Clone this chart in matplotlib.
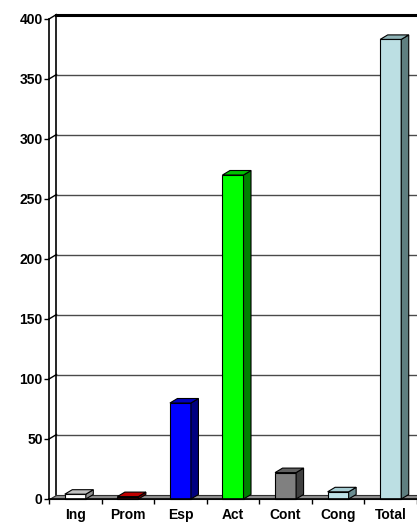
import matplotlib.pyplot as plt
from matplotlib.patches import Polygon

categories = ['Ing', 'Prom', 'Esp', 'Act', 'Cont', 'Cong', 'Total']
values = [4, 2, 80, 270, 22, 6, 383]
front_colors = ['#ffffff', '#dd0000', '#0000ff', '#00ff00', '#808080', '#bfe3e8', '#bcdfe3']
top_colors = ['#c0c0c0', '#c00000', '#0000c0', '#00c000', '#606060', '#a6cdd3', '#8fb3b6']
side_colors = ['#909090', '#800000', '#000080', '#008000', '#404040', '#6a8c90', '#5f7f80']
yticks = [0, 50, 100, 150, 200, 250, 300, 350, 400]

W, H = 417, 524
fig = plt.figure(figsize=(W / 100, H / 100), dpi=100)
ax = fig.add_axes([49 / W, 25 / H, 368 / W, 480 / H])
n = len(categories)
ax.set_xlim(-0.5, n - 0.5)
ax.set_ylim(0, 400)
for s in ax.spines.values():
    s.set_visible(False)

dx = 7.5 / 52.6   # depth in category units
dy = 4.5 / 1.2    # depth in value units
x0, x1 = -0.5, n - 0.5

# left wall lines
ax.plot([x0, x0], [0, 400], color='black', lw=1.2, clip_on=False)
ax.plot([x0 + dx, x0 + dx], [dy, 400 + dy], color='black', lw=1.2, clip_on=False)

# gridlines on back wall + diagonals on side wall
for v in yticks[1:]:
    lw = 2.2 if v == 400 else 1.0
    c = 'black' if v == 400 else '#4a4a4a'
    ax.plot([x0 + dx, x1 + 0.2], [v + dy, v + dy], color=c, lw=lw, clip_on=False, zorder=1)
    ax.plot([x0, x0 + dx], [v, v + dy], color='black', lw=1.0, clip_on=False, zorder=1)

# floor
floor = Polygon([(x0, 0), (x1 + 0.2, 0), (x1 + 0.2, dy), (x0 + dx, dy)],
                closed=True, facecolor='#909090', edgecolor='#303030', lw=0.8,
                clip_on=False, zorder=2)
ax.add_patch(floor)

# bars
bw = 0.4
for i, v in enumerate(values):
    l, r = i - bw / 2, i + bw / 2
    front = Polygon([(l, 0), (r, 0), (r, v), (l, v)], closed=True,
                    facecolor=front_colors[i], edgecolor='black', lw=0.8, zorder=3, clip_on=False)
    side = Polygon([(r, 0), (r + dx, dy), (r + dx, v + dy), (r, v)], closed=True,
                   facecolor=side_colors[i], edgecolor='black', lw=0.8, zorder=3, clip_on=False)
    top = Polygon([(l, v), (r, v), (r + dx, v + dy), (l + dx, v + dy)], closed=True,
                  facecolor=top_colors[i], edgecolor='black', lw=0.8, zorder=3, clip_on=False)
    for p in (front, side, top):
        ax.add_patch(p)

# axes ticks
ax.set_yticks(yticks)
ax.set_yticklabels([str(v) for v in yticks], fontsize=10, fontweight='bold', family='Liberation Sans')
ax.tick_params(axis='y', direction='out', length=3.6, width=1, pad=1)
ax.set_xticks(range(n))
ax.set_xticklabels(categories, fontsize=10, fontweight='bold', family='Liberation Sans')
ax.set_xticks([i - 0.5 for i in range(n + 1)], minor=True)
ax.tick_params(axis='x', which='major', length=0, pad=6.5)
ax.tick_params(axis='x', which='minor', direction='out', length=3.6, width=1)
ax.plot([x0, x1], [0, 0], color='black', lw=1.2, clip_on=False, zorder=4)

fig.savefig('out.png', dpi=100)
